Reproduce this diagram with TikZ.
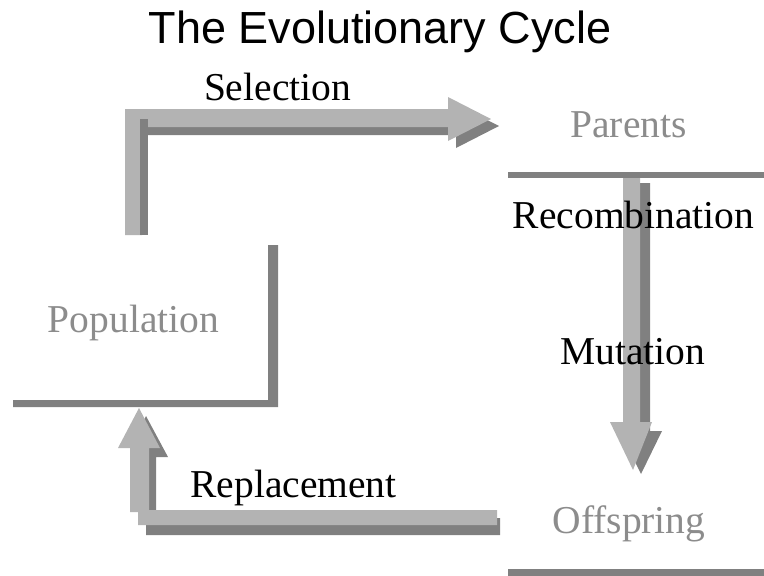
\documentclass[tikz,border=0pt]{standalone}
\usepackage{fontspec}
\setmainfont{Liberation Serif}
\newfontfamily\headfont{Liberation Sans}
\definecolor{arrowlight}{RGB}{179,179,179}
\definecolor{arrowdark}{RGB}{128,128,128}
\definecolor{stagegray}{RGB}{140,140,140}
\begin{document}
\begin{tikzpicture}[x=1pt,y=-1pt,
  lbl/.style={anchor=base,inner sep=0pt,font=\fontsize{39.5}{40}\selectfont},
  opname/.style={lbl,text=black},
  stage/.style={lbl,text=stagegray},
  hi/.style={fill=arrowlight},
  lo/.style={fill=arrowdark},
  rulebar/.style={fill=arrowdark}]
\useasboundingbox (0,0) rectangle (764,576);

% title
\node[anchor=base,inner sep=0pt,font=\headfont\fontsize{45}{48}\selectfont] (title) at (380,43) {The Evolutionary Cycle};

% separator bars of the three stages
\fill[rulebar] (508,172) rectangle (764,178);
\fill[rulebar] (508,569) rectangle (764,576);
\fill[rulebar] (268,245) -- (278,245) -- (278,407) -- (13,407) -- (13,400) -- (268,400) -- cycle;

% selection arrow: shadow, face, inner edge
\fill[lo] (148,127) -- (456,127) -- (456,104) -- (499,126) -- (456,148) -- (456,135) -- (148,135) -- cycle;
\fill[hi] (125,235) -- (125,109) -- (448,109) -- (448,97) -- (491,119) -- (448,141) -- (448,127) -- (142,127) -- (142,235) -- cycle;
\fill[lo] (140,119) rectangle (148,235);

% recombination / mutation arrow
\fill[lo] (640,183) -- (650,183) -- (650,431) -- (662,431) -- (641,474) -- (620,431) -- (640,431) -- cycle;
\fill[hi] (623,178) -- (640,178) -- (640,422) -- (652,422) -- (633,470) -- (610,422) -- (623,422) -- cycle;

% replacement arrow
\fill[lo] (146,535) -- (500,535) -- (500,518) -- (156,518) -- (156,457) -- (168,457) -- (146,416) -- (130,448) -- (146,448) -- cycle;
\fill[hi] (130,448) -- (130,512) -- (138,512) -- (138,525) -- (497,525) -- (497,510) -- (149,510) -- (149,448) -- (160,448) -- (139,408) -- (118,448) -- cycle;

% labels
\node[opname] (sel) at (277.5,100) {Selection};
\node[stage]  (par) at (628.5,137) {Parents};
\node[opname] (rec) at (633.5,228) {Recombination};
\node[opname] (mut) at (633,364) {Mutation};
\node[stage]  (pop) at (133.5,332) {Population};
\node[opname] (rep) at (293.5,497) {Replacement};
\node[stage]  (off) at (629,533) {Offspring};
\end{tikzpicture}
\end{document}
